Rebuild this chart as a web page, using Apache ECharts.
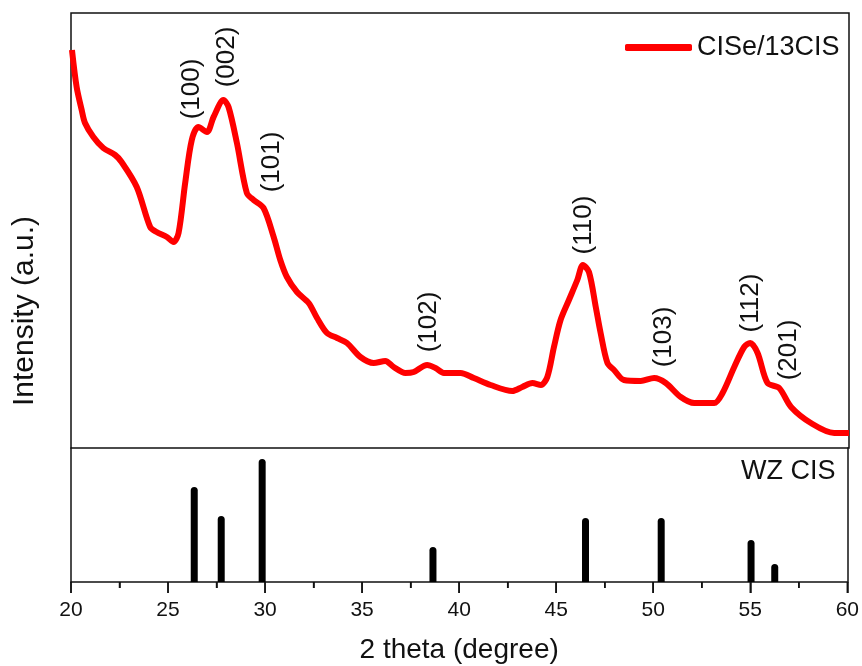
<!DOCTYPE html>
<html>
<head>
<meta charset="utf-8">
<script src="https://cdn.jsdelivr.net/npm/echarts@6/dist/echarts.min.js"></script>
<style>
html,body{margin:0;padding:0;background:#fff;}
#chart{width:862px;height:666px;}
</style>
</head>
<body>
<div id="chart"></div>
<script>
// 2theta (degree) and intensity (a.u.) of the measured pattern
const xrdTheta = [20.05,20.29,20.55,20.72,21.15,21.66,22.27,22.6,23.38,24.07,24.4,24.93,25.27,25.53,25.87,26.21,26.55,26.99,27.33,27.84,28.1,28.53,29.04,29.39,29.9,30.42,30.76,31.1,31.62,32.22,32.65,33.16,33.68,34.19,34.88,35.56,36.16,36.59,37.19,37.62,38.31,38.74,39.17,40.03,40.71,41.57,42.69,43.2,43.72,44.16,44.49,44.83,45.17,45.6,46.03,46.32,46.63,46.98,47.23,47.58,47.92,48.43,49.29,49.98,50.58,51.35,52.04,53.07,53.5,54.1,54.61,54.92,55.3,55.81,56.41,57.02,58.04,59.24,60.0];
const xrdIntensity = [398,361,338,325,311,300,293,286,261,221,216,211,206,215,265,308,321,316,331,348,341,305,255,248,240,211,188,171,156,145,130,115,110,105,91,85,87,81,75,76,83,80,75,75,70,63,57,61,65,63,71,101,128,148,168,183,176,141,115,85,78,68,67,70,65,51,45,45,55,81,101,105,95,65,60,41,25,15,15];

// Reference pattern: WZ CIS stick positions and relative intensities
const refTheta = [26.35,27.74,29.85,38.65,46.51,50.41,55.04,56.26];
const refIntensity = [70.9,49.3,91.8,26.1,47.8,47.8,31.3,13.4];

// Peak index labels
const peakLabels = ['(100)','(002)','(101)','(102)','(110)','(103)','(112)','(201)'];
const peakLabelTheta = [26.21,28.01,30.33,38.4,46.37,50.49,54.96,56.93];
const peakLabelY = [359,391,286,126,223,111,145,98];

// x-axis tick values (major, labelled) and minor tick values
const xTicks = [20,25,30,35,40,45,50,55,60];
const xMinorTicks = [22.5,27.5,32.5,37.5,42.5,47.5,52.5,57.5];

const seriesName = 'CISe/13CIS';
const refName = 'WZ CIS';
const xTitle = '2 theta (degree)';
const yTitle = 'Intensity (a.u.)';

const FONT = '"Liberation Sans", Arial, Helvetica, sans-serif';
const INK = '#111';
const chart = echarts.init(document.getElementById('chart'), null, {renderer:'canvas'});

const curve = xrdTheta.map((t,i)=>[t, xrdIntensity[i]]);
const sticks = refTheta.map((t,i)=>[t, refIntensity[i]]);
const labels = peakLabels.map((s,i)=>({name:s, value:[peakLabelTheta[i], peakLabelY[i]]}));
const tickMarks = xTicks.map(v=>[v, 0, 1]).concat(xMinorTicks.map(v=>[v, 0, 0]));

const xMin = xTicks[0], xMax = xTicks[xTicks.length-1];
const frameLine = {show:true, onZero:false, lineStyle:{color:INK, width:1.5}};

chart.setOption({
  animation:false,
  backgroundColor:'#fff',
  grid:[
    {left:71, right:13, top:13, height:435, show:true, borderColor:INK, borderWidth:1.5, backgroundColor:'transparent'},
    {left:71, right:13, top:448, height:134, show:false}
  ],
  xAxis:[
    {type:'value', gridIndex:0, min:xMin, max:xMax, interval:5, show:false},
    {type:'value', gridIndex:1, position:'bottom', min:xMin, max:xMax, interval:5,
     axisLine:frameLine,
     axisTick:{show:true, inside:false, length:11, lineStyle:{color:INK, width:1.5}},
     minorTick:{show:true, splitNumber:2, length:6, lineStyle:{color:INK, width:1.5}},
     splitLine:{show:false},
     axisLabel:{fontSize:21, color:INK, fontFamily:FONT, margin:18},
     name:xTitle, nameLocation:'middle', nameGap:54,
     nameTextStyle:{fontSize:28, color:INK, fontFamily:FONT}
    }
  ],
  yAxis:[
    {type:'value', gridIndex:0, min:0, max:435, show:false},
    {type:'value', gridIndex:1, min:0, max:100, position:'left',
     axisLine:frameLine, axisTick:{show:false}, axisLabel:{show:false}, splitLine:{show:false}},
    {type:'value', gridIndex:1, min:0, max:100, position:'right',
     axisLine:frameLine, axisTick:{show:false}, axisLabel:{show:false}, splitLine:{show:false}}
  ],
  legend:{
    data:[seriesName], left:620, top:29, itemWidth:67, itemHeight:7, icon:'roundRect',
    itemGap:5,
    textStyle:{fontSize:27, color:INK, fontFamily:FONT}
  },
  graphic:[
    {type:'text', left:838-97, top:473-15, style:{text:refName, fontSize:27, fill:INK, fontFamily:FONT}},
    {type:'text', x:25, y:311, rotation:Math.PI/2,
     style:{text:yTitle, fontSize:30, fill:INK, fontFamily:FONT, textAlign:'center', textVerticalAlign:'middle'}}
  ],
  series:[
    {name:seriesName, type:'line', xAxisIndex:0, yAxisIndex:0, data:curve, smooth:0.3, showSymbol:false,
     lineStyle:{color:'#ff0000', width:6}, itemStyle:{color:'#ff0000'}},
    {name:'labels', type:'scatter', xAxisIndex:0, yAxisIndex:0, data:labels, symbolSize:0,
     itemStyle:{opacity:1},
     label:{show:true, position:'inside', rotate:90, formatter:'{b}', fontSize:26, color:INK, fontFamily:FONT},
     silent:true},
    {name:refName, type:'bar', xAxisIndex:1, yAxisIndex:1, data:sticks, barWidth:7,
     itemStyle:{color:'#000', borderRadius:[4,4,0,0]}},
    {name:'ticks', type:'custom', xAxisIndex:1, yAxisIndex:1, data:tickMarks, clip:false, silent:true, z:10,
     encode:{x:0, y:1},
     renderItem:function(params, api){
       const p = api.coord([api.value(0), api.value(1)]);
       const len = api.value(2) ? 11 : 6;
       return {type:'line', shape:{x1:p[0], y1:p[1], x2:p[0], y2:p[1]+len},
               style:{stroke:INK, lineWidth:1.5}};
     }}
  ]
});
</script>
</body>
</html>
